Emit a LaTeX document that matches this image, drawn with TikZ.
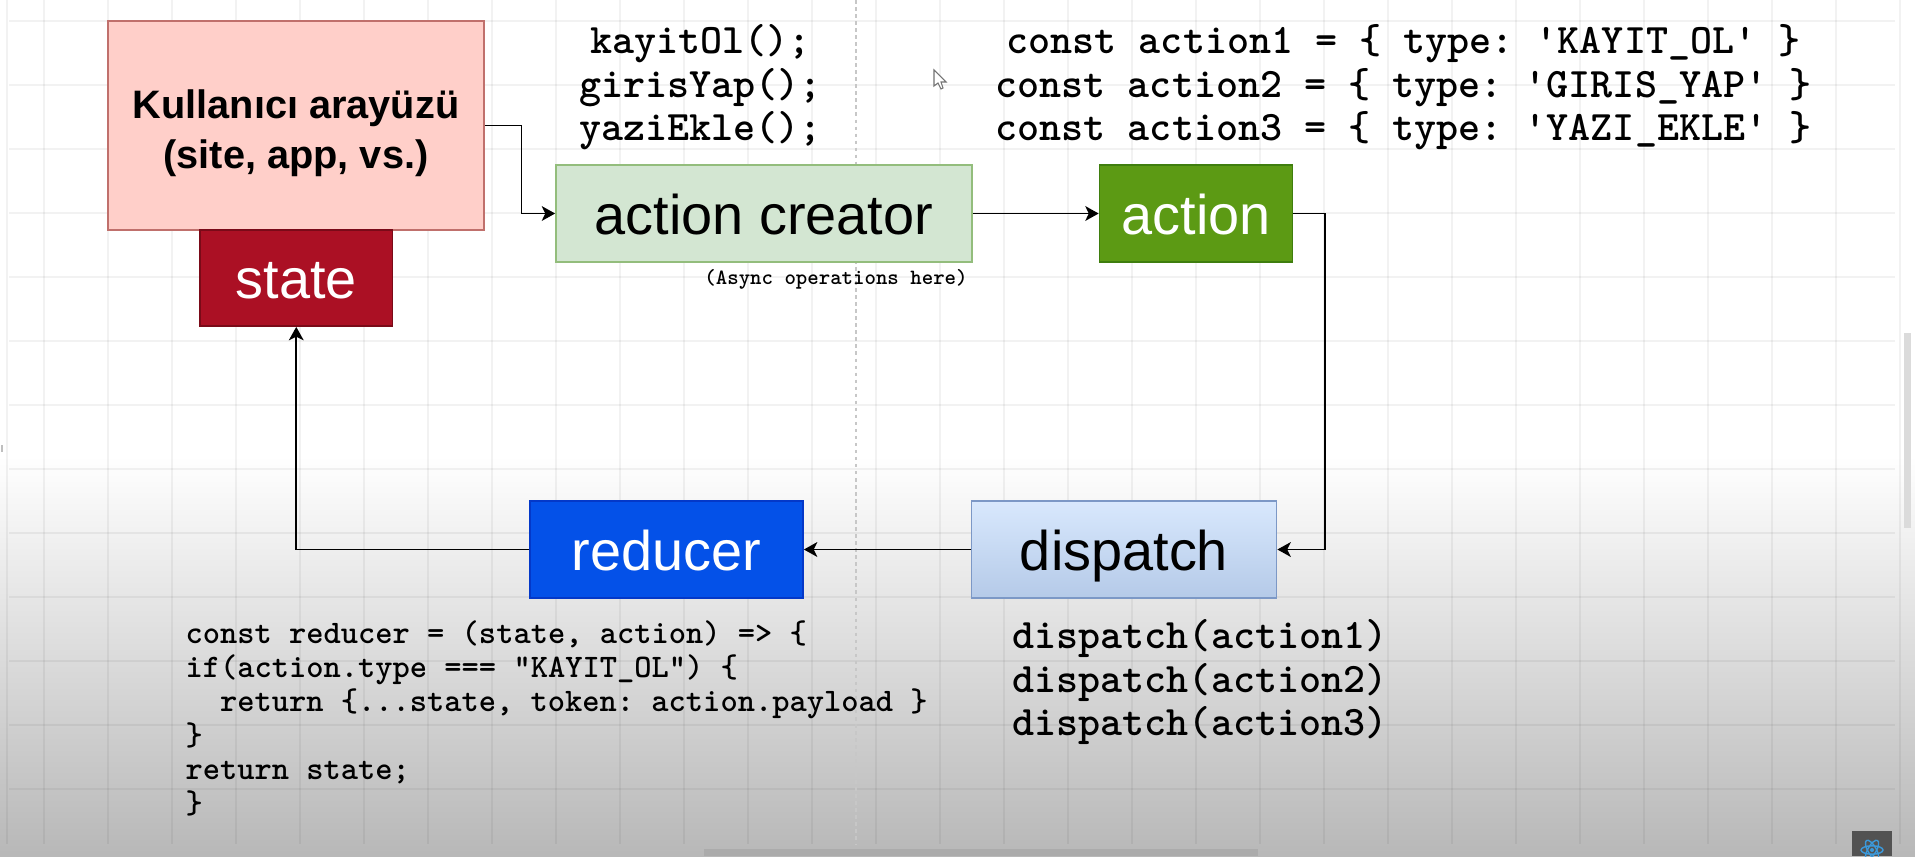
\documentclass[tikz,border=0pt]{standalone}
\usepackage{fontspec}
\setsansfont{Liberation Sans}
\usepackage{xcolor}
\usetikzlibrary{positioning, arrows.meta}

\definecolor{pinkfill}{HTML}{FFCFC9}
\definecolor{pinkline}{HTML}{C0706C}
\definecolor{statefill}{HTML}{AB1024}
\definecolor{stateline}{HTML}{7A0A18}
\definecolor{creatorfill}{HTML}{D3E6D2}
\definecolor{creatorline}{HTML}{93BD7C}
\definecolor{actionfill}{HTML}{5C9A14}
\definecolor{actionline}{HTML}{3F7E0E}
\definecolor{reducerfill}{HTML}{0451E8}
\definecolor{reducerline}{HTML}{0438C8}
\definecolor{dispatchtop}{HTML}{D8E8FD}
\definecolor{dispatchbot}{HTML}{B5CAE8}
\definecolor{dispatchline}{HTML}{7C98C6}

\tikzset{
  box/.style={draw, line width=0.5pt, inner sep=0pt},
  wordbox/.style={box, text height=12.4pt, text depth=0.6pt, font=\sffamily\fontsize{15.9}{18}\selectfont},
  code/.style={inner sep=0pt, align=center, font=\frenchspacing\fontsize{11.95}{12.35}\selectfont\ttfamily\bfseries},
  flow/.style={line width=0.5pt, -{Stealth[length=3.8pt,width=4.2pt,inset=1pt]}},
  gridline/.style={black, opacity=0.05}
}

\begin{document}
\begin{tikzpicture}
    \useasboundingbox[clip] (0,0) rectangle (19.15,8.56);

    % background and the dark fade at the bottom
    \fill[white] (0,0) rectangle (19.15,8.56);
    \fill[top color=white, bottom color=black!28] (0,0) rectangle (19.15,4.0);

    % draw the page grid
    \foreach \y in {8.35,7.71,7.07,6.43,5.79,5.15,4.51,3.87,3.23,2.59,1.95,1.31,0.67}
      \draw[gridline, line width=0.8pt] (0.09,\y) -- (18.95,\y);
    \foreach \x in {0,...,29}
      \draw[gridline, line width=0.35pt] ({0.44+0.64*\x},0.12) -- ({0.44+0.64*\x},8.56);
    \draw[gridline, line width=0.7pt] (0.07,0.12) -- (0.07,8.56);

    % the dashed page break
    \draw[black!22, line width=0.3pt, dash pattern=on 1pt off 1pt] (8.56,8.56) -- (8.56,0.12);

    % draw the boxes
    \node[box, fill=pinkfill, draw=pinkline, minimum width=3.76cm, minimum height=2.09cm, align=center,
          font=\sffamily\bfseries\fontsize{11.3}{14.2}\selectfont] (ui) at (2.96,7.305) {\rule{0pt}{12.7pt}Kullanıcı arayüzü\\(site, app, vs.)};
    \node[wordbox, fill=statefill, draw=stateline, text=white, minimum width=1.925cm, minimum height=0.96cm] (state) at (2.9625,5.78) {state};
    \node[wordbox, fill=creatorfill, draw=creatorline, minimum width=4.16cm, minimum height=0.97cm] (creator) at (7.64,6.425) {action creator};
    \node[wordbox, fill=actionfill, draw=actionline, text=white, minimum width=1.93cm, minimum height=0.97cm] (action) at (11.96,6.425) {action};
    \node[wordbox, fill=reducerfill, draw=reducerline, text=white, minimum width=2.73cm, minimum height=0.97cm] (reducer) at (6.665,3.065) {reducer};
    \node[wordbox, top color=dispatchtop, bottom color=dispatchbot, draw=dispatchline, minimum width=3.05cm, minimum height=0.97cm] (dispatch) at (11.24,3.065) {dispatch};

    % draw the connectors
    \draw[flow] (ui.east) -- ++(0.365,0) |- (creator.west);
    \draw[flow] (creator) -- (action);
    \draw[flow] (action.east) -- ++(0.315,0) |- (dispatch.east);
    \draw[flow] (dispatch) -- (reducer);
    \draw[flow] (reducer.west) -| (state.south);

    % draw the code next to the boxes
    \node[code] (calls) at (7.005,7.685) {kayitOl();\\girisYap();\\yaziEkle();};
    \node[code] (actions) at (14.035,7.685) {const action1 = \{ type: 'KAYIT\_OL' \}\\const action2 = \{ type: 'GIRIS\_YAP' \}\\const action3 = \{ type: 'YAZI\_EKLE' \}};
    \node[code, font=\frenchspacing\fontsize{6.2}{7}\selectfont\ttfamily\bfseries] (async) at (8.36,5.77) {(Async operations here)};
    \node[code, align=left, anchor=north west, font=\frenchspacing\fontsize{9.35}{9.65}\selectfont\ttfamily\bfseries] (reducercode) at (1.85,2.355)
      {const reducer = (state, action) => \{\\if(action.type === "KAYIT\_OL") \{\\\ \ return \{...state, token: action.payload \}\\\}\\return state;\\\}};
    \node[code, align=left] (dispatches) at (12.0,1.74) {dispatch(action1)\\dispatch(action2)\\dispatch(action3)};

    % mouse pointer
    \draw[black!55, fill=white, line width=0.3pt] (9.34,7.86) -- (9.34,7.70) -- (9.38,7.73) -- (9.41,7.67) -- (9.43,7.68) -- (9.41,7.74) -- (9.46,7.74) -- cycle;

    % scroll bars
    \fill[black!33] (7.04,0) rectangle (12.58,0.07);
    \fill[black!14] (19.04,3.28) rectangle (19.11,5.23);
    \fill[black!25] (0.01,4.04) rectangle (0.03,4.11);

    % small react badge
    \fill[black!68] (18.52,0) rectangle (18.92,0.25);
    \foreach \a in {0,60,120}
      \draw[cyan!70!blue!80, line width=0.4pt, rotate around={\a:(18.72,0.06)}] (18.72,0.06) ellipse [x radius=0.11, y radius=0.042];
    \fill[cyan!70!blue!80] (18.72,0.06) circle (0.02);
\end{tikzpicture}
\end{document}
